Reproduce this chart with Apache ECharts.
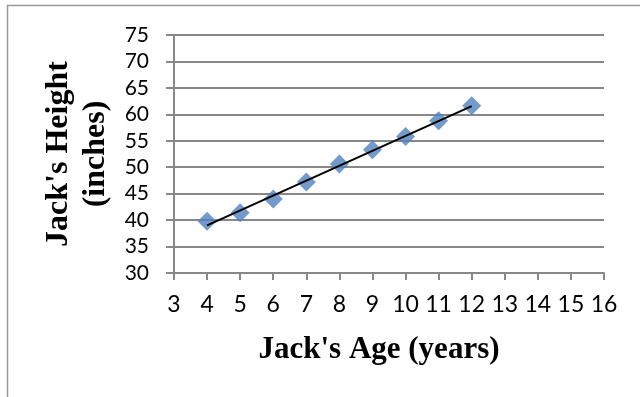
<!DOCTYPE html>
<html>
<head>
<meta charset="utf-8">
<script src="https://cdn.jsdelivr.net/npm/echarts@6/dist/echarts.min.js"></script>
<style>html,body{margin:0;padding:0;background:#fff;}#c{width:640px;height:397px;}</style>
</head>
<body>
<div id="c"></div>
<script>
const ages = [4, 5, 6, 7, 8, 9, 10, 11, 12];
const heights = [39.8, 41.4, 44.0, 47.2, 50.6, 53.3, 55.8, 58.8, 61.6];
const xTitle = "Jack's Age (years)";
const yTitle = "Jack's Height\n(inches)";

// least-squares trendline computed from the data
const n = ages.length;
const mx = ages.reduce((a, b) => a + b, 0) / n;
const my = heights.reduce((a, b) => a + b, 0) / n;
let sxy = 0, sxx = 0;
for (let i = 0; i < n; i++) { sxy += (ages[i] - mx) * (heights[i] - my); sxx += (ages[i] - mx) ** 2; }
const slope = sxy / sxx, icpt = my - slope * mx;
const xFirst = ages[0], xLast = ages[n - 1];
const trend = [[xFirst, icpt + slope * xFirst], [xLast, icpt + slope * xLast]];

const axisCol = '#888888';
const chart = echarts.init(document.getElementById('c'));
chart.setOption({
  animation: false,
  backgroundColor: '#fff',
  graphic: [{
    type: 'rect', shape: { x: 7.5, y: 5.5, width: 700, height: 500 },
    style: { fill: 'none', stroke: '#9a9a9a', lineWidth: 1.5 }, silent: true
  }],
  grid: { left: 174, right: 36, top: 35, bottom: 124 },
  xAxis: {
    type: 'value', min: 3, max: 16, interval: 1,
    name: xTitle, nameLocation: 'middle', nameGap: 61,
    nameTextStyle: { fontFamily: 'Liberation Serif', fontWeight: 'bold', fontSize: 31, color: '#000', padding: [0, 20, 0, 0] },
    axisLine: { show: true, lineStyle: { color: axisCol, width: 2 } },
    axisTick: { show: true, length: 7, lineStyle: { color: axisCol, width: 2 } },
    axisLabel: { fontFamily: 'Lato', fontSize: 23, color: '#000', margin: 20 },
    splitLine: { show: false }
  },
  yAxis: {
    type: 'value', min: 30, max: 75, interval: 5,
    name: yTitle, nameLocation: 'middle', nameRotate: 90, nameGap: 58,
    nameTextStyle: { fontFamily: 'Liberation Serif', fontWeight: 'bold', fontSize: 32, color: '#000', lineHeight: 37 },
    axisLine: { show: true, lineStyle: { color: axisCol, width: 2 } },
    axisTick: { show: true, length: 8, lineStyle: { color: axisCol, width: 2 } },
    axisLabel: { fontFamily: 'Lato', fontSize: 21, color: '#000', margin: 25 },
    splitLine: { show: true, lineStyle: { color: axisCol, width: 2 } }
  },
  series: [{
    type: 'scatter',
    data: ages.map((a, i) => [a, heights[i]]),
    symbol: 'diamond', symbolSize: [19, 19],
    itemStyle: { color: '#4F81BD' }, z: 2
  }, {
    type: 'line', data: trend, symbol: 'none',
    lineStyle: { color: '#000', width: 2 }, z: 3
  }]
});
</script>
</body>
</html>
